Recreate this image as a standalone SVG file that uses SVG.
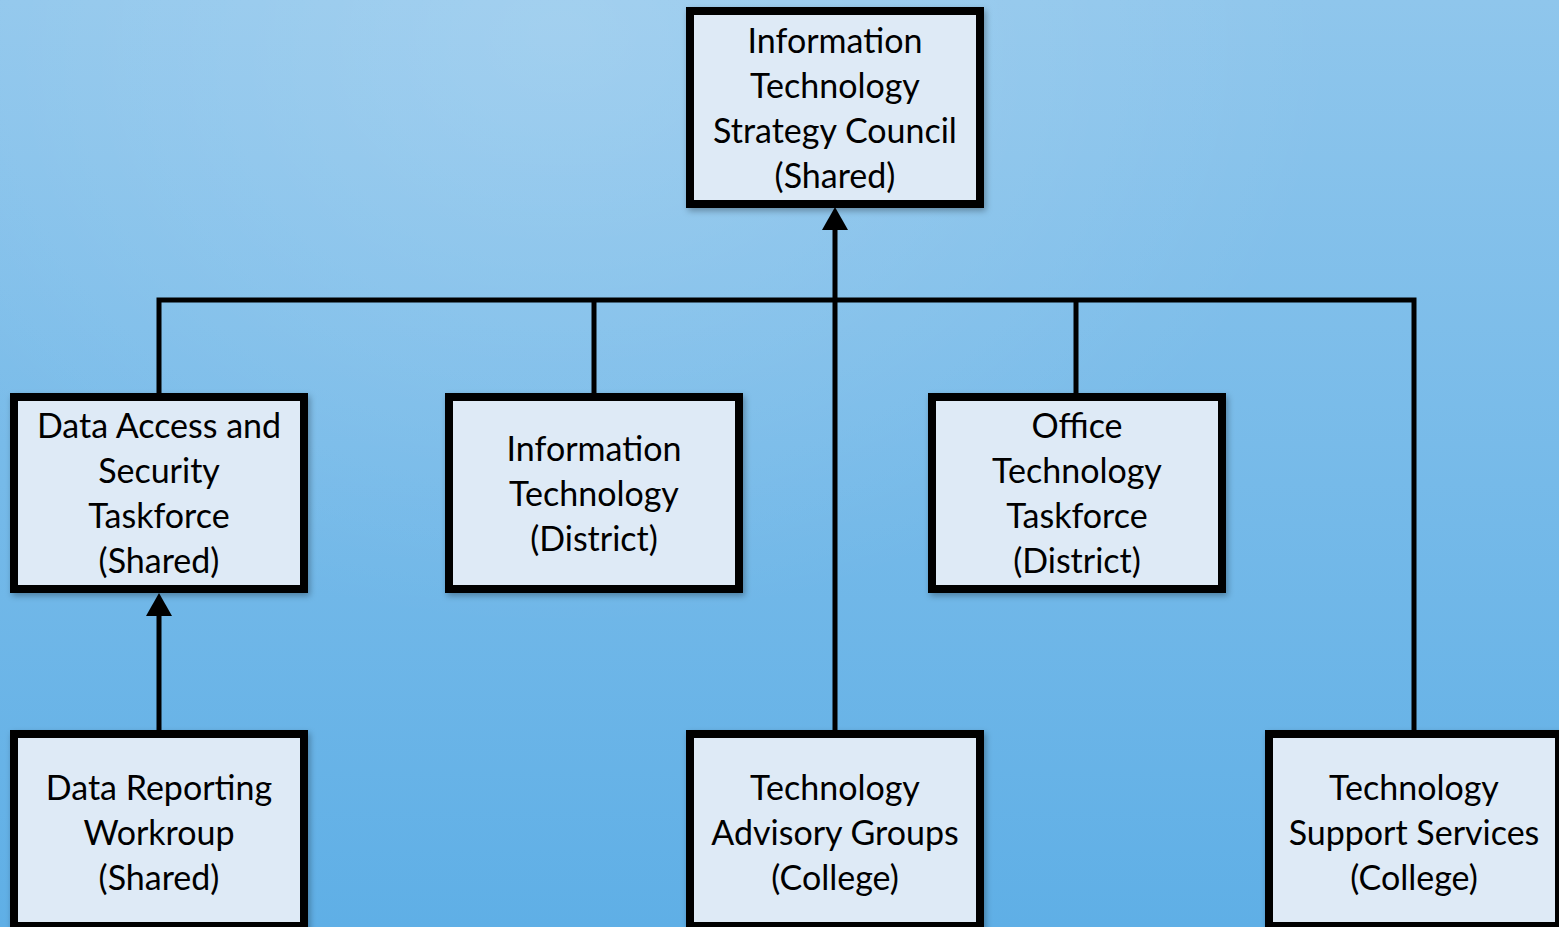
<svg xmlns="http://www.w3.org/2000/svg" width="1559" height="927" viewBox="0 0 1559 927">
<defs>
<linearGradient id="bg" x1="0" y1="0" x2="0" y2="927" gradientUnits="userSpaceOnUse">
<stop offset="0" stop-color="#8FC6EC"/>
<stop offset="1" stop-color="#5FAFE6"/>
</linearGradient>
<radialGradient id="glow" cx="560" cy="30" r="600" gradientUnits="userSpaceOnUse" gradientTransform="translate(560 30) scale(1.3 1) translate(-560 -30)">
<stop offset="0" stop-color="#FFFFFF" stop-opacity="0.18"/>
<stop offset="1" stop-color="#FFFFFF" stop-opacity="0"/>
</radialGradient>
<filter id="sh" x="-10%" y="-10%" width="120%" height="120%">
<feDropShadow dx="2" dy="3" stdDeviation="3" flood-color="#000" flood-opacity="0.3"/>
</filter>
</defs>
<style>
.box{fill:#DEEAF6;stroke:#000;stroke-width:8;filter:url(#sh)}
.t{font-family:Lato,"Open Sans","Liberation Sans",sans-serif;font-size:34px;fill:#000;text-anchor:middle}
.c{stroke:#000;stroke-width:5;fill:none}
</style>
<rect width="1559" height="927" fill="url(#bg)"/>
<rect width="1559" height="927" fill="url(#glow)"/>
<g id="connectors">
<polyline class="c" points="159,397 159,300 1414,300 1414,734"/>
<line class="c" x1="594" y1="300" x2="594" y2="397"/>
<line class="c" x1="1076" y1="300" x2="1076" y2="397"/>
<line class="c" x1="835" y1="734" x2="835" y2="226"/>
<polygon points="835,207 822,230 848,230" fill="#000"/>
<line class="c" x1="159" y1="734" x2="159" y2="612"/>
<polygon points="159,593 146,616 172,616" fill="#000"/>
</g>
<g id="n-council">
<rect class="box" x="690" y="11" width="290" height="193"/>
<text class="t" x="835" y="53">Information</text>
<text class="t" x="835" y="98">Technology</text>
<text class="t" x="835" y="143">Strategy Council</text>
<text class="t" x="835" y="188">(Shared)</text>
</g>
<g id="n-data-access">
<rect class="box" x="14" y="397" width="290" height="192"/>
<text class="t" x="159" y="438">Data Access and</text>
<text class="t" x="159" y="483">Security</text>
<text class="t" x="159" y="528">Taskforce</text>
<text class="t" x="159" y="573">(Shared)</text>
</g>
<g id="n-it-district">
<rect class="box" x="449" y="397" width="290" height="192"/>
<text class="t" x="594" y="461">Information</text>
<text class="t" x="594" y="506">Technology</text>
<text class="t" x="594" y="551">(District)</text>
</g>
<g id="n-office">
<rect class="box" x="932" y="397" width="290" height="192"/>
<text class="t" x="1077" y="438">Office</text>
<text class="t" x="1077" y="483">Technology</text>
<text class="t" x="1077" y="528">Taskforce</text>
<text class="t" x="1077" y="573">(District)</text>
</g>
<g id="n-data-reporting">
<rect class="box" x="14" y="734" width="290" height="192"/>
<text class="t" x="159" y="800">Data Reporting</text>
<text class="t" x="159" y="845">Workroup</text>
<text class="t" x="159" y="890">(Shared)</text>
</g>
<g id="n-advisory">
<rect class="box" x="690" y="734" width="290" height="192"/>
<text class="t" x="835" y="800">Technology</text>
<text class="t" x="835" y="845">Advisory Groups</text>
<text class="t" x="835" y="890">(College)</text>
</g>
<g id="n-support">
<rect class="box" x="1269" y="734" width="290" height="192"/>
<text class="t" x="1414" y="800">Technology</text>
<text class="t" x="1414" y="845">Support Services</text>
<text class="t" x="1414" y="890">(College)</text>
</g>
</svg>
